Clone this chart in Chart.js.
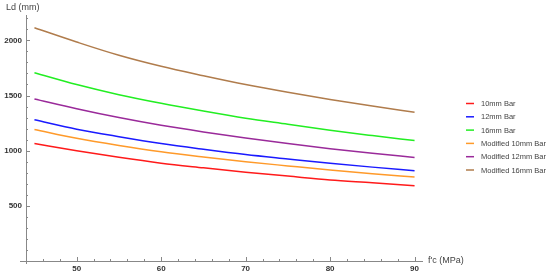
<!DOCTYPE html>
<html>
<head>
<meta charset="utf-8">
<script src="https://cdn.jsdelivr.net/npm/chart.js@4.4.0/dist/chart.umd.min.js"></script>
<style>
  html, body { margin: 0; padding: 0; background: #fff; }
  #wrap { width: 550px; height: 276px; }
</style>
</head>
<body>
<div id="wrap"><canvas id="chart" width="550" height="276"></canvas></div>
<script>
// Chart data
const fc = [45, 50, 55, 60, 65, 70, 75, 80, 85, 90];
const bar10 = [1065, 1000, 940, 887, 845, 805, 770, 735, 710, 683];
const bar12 = [1280, 1195, 1127, 1065, 1013, 965, 925, 886, 851, 818];
const bar16 = [1707, 1600, 1508, 1430, 1360, 1295, 1240, 1185, 1137, 1092];
const mod10 = [1192, 1112, 1047, 990, 943, 900, 862, 825, 792, 761];
const mod12 = [1469, 1380, 1300, 1230, 1170, 1115, 1065, 1018, 976, 939];
const mod16 = [2114, 1985, 1865, 1765, 1680, 1600, 1530, 1465, 1405, 1349];
const seriesNames = ["10mm Bar", "12mm Bar", "16mm Bar", "Modified 10mm Bar", "Modified 12mm Bar", "Modified 16mm Bar"];
const seriesColors = ["#ff1a1a", "#1a1aff", "#22ee22", "#ff9a2a", "#9a2a9a", "#b07c4c"];
const xTicks = [50, 60, 70, 80, 90];
const yTicks = [500, 1000, 1500, 2000];

const allSeries = [bar10, bar12, bar16, mod10, mod12, mod16];

const datasets = allSeries.map((vals, i) => ({
  label: seriesNames[i],
  data: vals.map((v, j) => ({ x: fc[j], y: v })),
  borderColor: seriesColors[i],
  borderWidth: 1.5,
  pointRadius: 0,
  cubicInterpolationMode: "monotone",
  fill: false,
}));

const axisColor = "#888";

// axes, minor ticks, titles and legend
const decorPlugin = {
  id: "decor",
  afterDraw(chart) {
    const ctx = chart.ctx;
    const xs = chart.scales.x;
    const ys = chart.scales.y;
    const area = chart.chartArea;
    ctx.save();
    ctx.strokeStyle = axisColor;
    ctx.lineWidth = 1;
    // axis lines
    ctx.beginPath();
    ctx.moveTo(area.left - 6, area.bottom + 0.5);
    ctx.lineTo(area.right, area.bottom + 0.5);
    ctx.moveTo(area.left + 0.5, area.top);
    ctx.lineTo(area.left + 0.5, area.bottom + 3);
    ctx.stroke();
    // x ticks
    ctx.beginPath();
    for (let v = 46; v <= 90; v += 2) {
      const px = Math.round(xs.getPixelForValue(v)) + 0.5;
      const len = v % 10 === 0 ? 4 : 2;
      ctx.moveTo(px, area.bottom);
      ctx.lineTo(px, area.bottom - len);
    }
    // y ticks
    for (let v = 100; v <= 2200; v += 100) {
      const py = Math.round(ys.getPixelForValue(v)) + 0.5;
      const len = v % 500 === 0 ? 4 : 2;
      ctx.moveTo(area.left, py);
      ctx.lineTo(area.left + len, py);
    }
    ctx.stroke();

    // axis titles
    ctx.fillStyle = "#444";
    ctx.font = "9px 'Liberation Sans', Arial, sans-serif";
    ctx.textBaseline = "middle";
    ctx.textAlign = "left";
    ctx.fillText("Ld (mm)", 6, 8);
    ctx.fillText("f'c (MPa)", area.right + 5, area.bottom);

    // legend
    const lx = 466, ly = 103.5, step = 13.3;
    ctx.font = "7.5px 'Liberation Sans', Arial, sans-serif";
    chart.data.datasets.forEach((ds, i) => {
      const y = ly + i * step;
      ctx.strokeStyle = ds.borderColor;
      ctx.lineWidth = 1.5;
      ctx.beginPath();
      ctx.moveTo(lx, y);
      ctx.lineTo(lx + 8, y);
      ctx.stroke();
      ctx.fillStyle = "#444";
      ctx.fillText(ds.label, lx + 15, y + 0.5);
    });
    ctx.restore();
  },
};

const tickFont = { family: "'Liberation Sans', Arial, sans-serif", size: 8, weight: "bold" };

new Chart(document.getElementById("chart"), {
  type: "line",
  data: { datasets: datasets },
  options: {
    responsive: false,
    animation: false,
    layout: { padding: { left: 0, top: 15, right: 127, bottom: 0 } },
    plugins: {
      legend: { display: false },
      tooltip: { enabled: false },
    },
    scales: {
      x: {
        type: "linear",
        min: 44,
        max: 91,
        afterBuildTicks: (s) => { s.ticks = xTicks.map((v) => ({ value: v })); },
        afterFit: (s) => { s.height = 15; },
        grid: { display: false, drawTicks: false },
        border: { display: false },
        ticks: {
          padding: 3,
          color: "#333",
          font: tickFont,
          maxRotation: 0,
          callback: (v) => String(v),
        },
      },
      y: {
        min: 0,
        max: 2230,
        afterBuildTicks: (s) => { s.ticks = yTicks.map((v) => ({ value: v })); },
        afterFit: (s) => { s.width = 26; },
        grid: { display: false, drawTicks: false },
        border: { display: false },
        ticks: {
          padding: 4,
          color: "#333",
          font: tickFont,
          callback: (v) => String(v),
        },
      },
    },
  },
  plugins: [decorPlugin],
});
</script>
</body>
</html>
